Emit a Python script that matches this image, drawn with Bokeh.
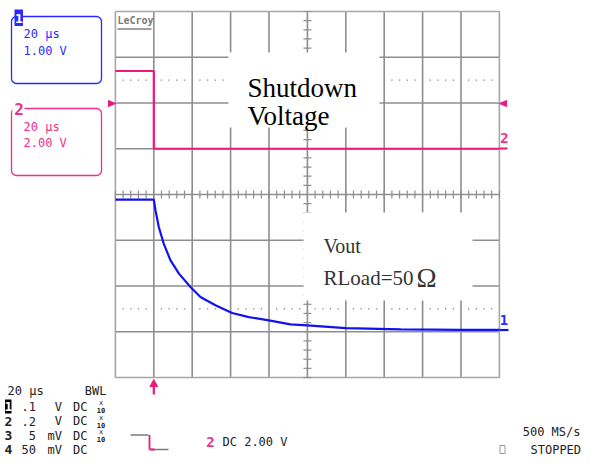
from bokeh.plotting import figure
from bokeh.models import Range1d, Label, BoxAnnotation
from bokeh.embed import file_html
from bokeh.resources import INLINE

# ---------------- data (read from the screen capture) ----------------
# time axis in microseconds (20 us/div, trigger at t = 0)
ch1_time = [-20, 0, 0.9, 2.6, 5.2, 8.7, 13.1, 19.1, 24.3, 32.1, 40.8, 49.5,
            59.9, 71.2, 80, 100, 128.6, 160, 180]
# channel 1 : Vout (1.00 V/div)
ch1_volts = [2.85, 2.85, 2.61, 2.25, 1.88, 1.52, 1.23, 0.94, 0.72, 0.54, 0.37,
             0.28, 0.21, 0.12, 0.10, 0.04, 0.01, 0.0, 0.0]
# channel 2 : shutdown voltage (2.00 V/div)
ch2_time = [-20, 0, 0, 180]
ch2_volts = [3.4, 3.4, 0.0, 0.0]

# graticule
grid_time = [-20 + 20 * k for k in range(11)]
grid_div = [-4 + k for k in range(9)]
minor_time = [-20 + 4 * k for k in range(51)]
minor_div = [-4 + 0.2 * k for k in range(41)]
dot_time = [t for t in minor_time if (t + 20) % 20 != 0]

# channel settings
CH1_VPD, CH1_GND_DIV = 1.0, -2.96
CH2_VPD, CH2_GND_DIV = 2.0, 1.0

# ---------------- geometry (pixels of the capture) ----------------
SX0, SX1, SY0, SY1 = 0, 582, 0, 458          # figure area
T0_X, PX_PER_US = 153.3, 1.92                # t = 0 screen x, px per us
CY, PX_PER_DIV = 194.0, 45.75                # centre line y, px per div

t_left = (SX0 - T0_X) / PX_PER_US
t_right = (SX1 - T0_X) / PX_PER_US
div_top = (CY - SY0) / PX_PER_DIV
div_bot = (CY - SY1) / PX_PER_DIV

MONO = "DejaVu Sans Mono"
SERIF = "Liberation Serif"
BLUE = "#1212ee"
BLUE_T = "#2a2aff"
PINK = "#f0167a"
PINK_T = "#ee2f86"
GRID = "#8e8e8e"
TXT = "#222222"

p = figure(width=SX1 - SX0, height=SY1 - SY0,
           x_range=Range1d(t_left, t_right), y_range=Range1d(div_bot, div_top),
           output_backend="svg", toolbar_location=None,
           x_axis_type=None, y_axis_type=None, min_border=0,
           outline_line_color=None, background_fill_color="white",
           border_fill_color="white")
p.extra_x_ranges = {"px": Range1d(SX0, SX1)}
p.extra_y_ranges = {
    "px": Range1d(SY1, SY0),
    "ch1": Range1d((div_bot - CH1_GND_DIV) * CH1_VPD, (div_top - CH1_GND_DIV) * CH1_VPD),
    "ch2": Range1d((div_bot - CH2_GND_DIV) * CH2_VPD, (div_top - CH2_GND_DIV) * CH2_VPD),
}
PX = dict(x_range_name="px", y_range_name="px")

# ---------------- graticule ----------------
inner_t = grid_time[1:-1]
p.multi_line(xs=[[t, t] for t in inner_t], ys=[[-4, 4]] * len(inner_t),
             line_color=GRID, line_width=1.6)
inner_d = grid_div[1:-1]
p.multi_line(xs=[[-20, 180]] * len(inner_d), ys=[[d, d] for d in inner_d],
             line_color=GRID, line_width=1.6)
p.multi_line(xs=[[-20, 180, 180, -20, -20]], ys=[[4, 4, -4, -4, 4]],
             line_color="#a6a6a6", line_width=1.6)
# dotted reference lines
for lvl in (2.5, -2.5):
    p.scatter(x=dot_time, y=[lvl] * len(dot_time), marker="square", size=1.4,
              line_color=None, fill_color="#8a8a8a")
# centre-line ticks
p.segment(x0=minor_time, x1=minor_time, y0=[-0.087] * len(minor_time),
          y1=[0.087] * len(minor_time), line_color=GRID, line_width=1.2)
p.segment(x0=[80 - 2.08] * len(minor_div), x1=[80 + 2.08] * len(minor_div),
          y0=minor_div, y1=minor_div, line_color=GRID, line_width=1.2)

# white text boxes pasted over the screen
p.quad(left=[228, 303], right=[379, 472], top=[52, 212], bottom=[127, 300],
       fill_color="white", line_color=None, **PX)

# ---------------- traces ----------------
p.line(ch2_time, ch2_volts, y_range_name="ch2", line_color=PINK, line_width=2.2)
p.line(ch1_time, ch1_volts, y_range_name="ch1", line_color=BLUE, line_width=2.2)

# ---------------- markers ----------------
p.patches(xs=[[108, 108, 115], [506, 506, 499]], ys=[[100, 106, 103], [100, 106, 103]],
          fill_color=PINK, line_color=PINK, **PX)
p.segment(x0=[499, 499], x1=[507, 508], y0=[148, 329.5], y1=[148, 329.5],
          line_color=[PINK, BLUE], line_width=2.2, **PX)
# trigger arrow below graticule
p.segment(x0=[T0_X], x1=[T0_X], y0=[385], y1=[394], line_color=PINK, line_width=2.2, **PX)
p.patches(xs=[[T0_X - 3.8, T0_X + 3.8, T0_X]], ys=[[386, 386, 379]],
          fill_color=PINK, line_color=PINK, **PX)
# trigger slope symbol
p.multi_line(xs=[[130, 148], [150, 168]], ys=[[434.5, 434.5], [449, 449]],
             line_color="#7a7a7a", line_width=1.5, **PX)
p.multi_line(xs=[[149, 149], [149, 154]], ys=[[434.5, 449], [449, 449]],
             line_color=PINK, line_width=1.8, **PX)
# LeCroy underline
p.segment(x0=[117], x1=[151], y0=[28.5], y1=[28.5], line_color="#808080", line_width=1.6, **PX)
# inverted "1" background in the lower panel
p.quad(left=[4.5], right=[11], top=[399], bottom=[413], fill_color="black", line_color=None, **PX)
# STOPPED square
p.quad(left=[499.5], right=[504.5], top=[445], bottom=[453], fill_color=None,
       line_color="#9a9a9a", line_width=1, **PX)

# ---------------- channel boxes ----------------
p.add_layout(BoxAnnotation(left=11, right=101, top=16, bottom=83, fill_color=None,
                           fill_alpha=0, line_color=BLUE_T, line_alpha=1, line_width=1.3,
                           border_radius=5, **PX))
p.add_layout(BoxAnnotation(left=11, right=101, top=108, bottom=175, fill_color=None,
                           fill_alpha=0, line_color=PINK_T, line_alpha=1, line_width=1.3,
                           border_radius=5, **PX))
p.add_layout(BoxAnnotation(left=14, right=22.5, top=9, bottom=25.5, fill_color=BLUE_T,
                           fill_alpha=1, line_color=None, **PX))
p.add_layout(BoxAnnotation(left=12, right=24, top=100, bottom=115, fill_color="white",
                           fill_alpha=1, line_color=None, **PX))


def lab(x, y, s, size=12, color=TXT, font=MONO, style="normal", align="left",
        baseline="middle"):
    p.add_layout(Label(x=x, y=y, text=s, text_font=font, text_font_size=f"{size}px",
                       text_color=color, text_font_style=style, text_align=align,
                       text_baseline=baseline, **PX))


# channel box texts
lab(18.3, 17.5, "1", size=13, color="white", style="bold", align="center")
lab(23, 33, "20 \u03bcs", color=BLUE_T)
lab(23, 50, "1.00 V", color=BLUE_T)
lab(18.5, 108.5, "2", size=16, color=PINK_T, style="bold", align="center")
lab(23, 126, "20 \u03bcs", color=PINK_T)
lab(23, 142, "2.00 V", color=PINK_T)

# graticule annotations
lab(117, 20, "LeCroy", size=10, color="#7a7a7a", style="bold")
lab(504, 137.5, "2", size=14, color=PINK_T, style="bold", align="center")
lab(503.5, 319, "1", size=14, color=BLUE_T, style="bold", align="center")

# pasted captions
lab(247, 87, "Shutdown", size=27, color="black", font=SERIF, baseline="alphabetic")
lab(247, 115, "Voltage", size=27, color="black", font=SERIF, baseline="alphabetic")
lab(323, 245, "Vout", size=20, color="#333333", font=SERIF, baseline="alphabetic")
lab(323, 277, "RLoad=50", size=21, color="#333333", font=SERIF, baseline="alphabetic")
lab(416, 277, "\u03a9", size=27, color="#333333", font=SERIF, baseline="alphabetic")

# lower panel
lab(7, 390, "20 \u03bcs")
lab(106, 390, "BWL", align="right")
rows = [(406, "1", ".1", "V", True), (420.5, "2", ".2", "V", True),
        (435, "3", "5", "mV", True), (449, "4", "50", "mV", False)]
for y, d, v, u, x10 in rows:
    lab(7.8, y, d, size=13, color="white" if d == "1" else TXT, style="bold", align="center")
    lab(35.5, y, v, align="right")
    lab(61.5, y, u, align="right")
    lab(72.5, y, "DC")
    if x10:
        lab(100.5, y - 3.5, "x", size=7, align="center")
        lab(100.5, y + 3.5, "10", size=7, style="bold", align="center")

lab(210, 441.5, "2", size=14, color=PINK_T, style="bold", align="center")
lab(222, 441.5, "DC 2.00 V")
lab(580, 431, "500 MS/s", align="right")
lab(530, 449, "STOPPED")

open("out.html", "w").write(file_html(p, INLINE))
